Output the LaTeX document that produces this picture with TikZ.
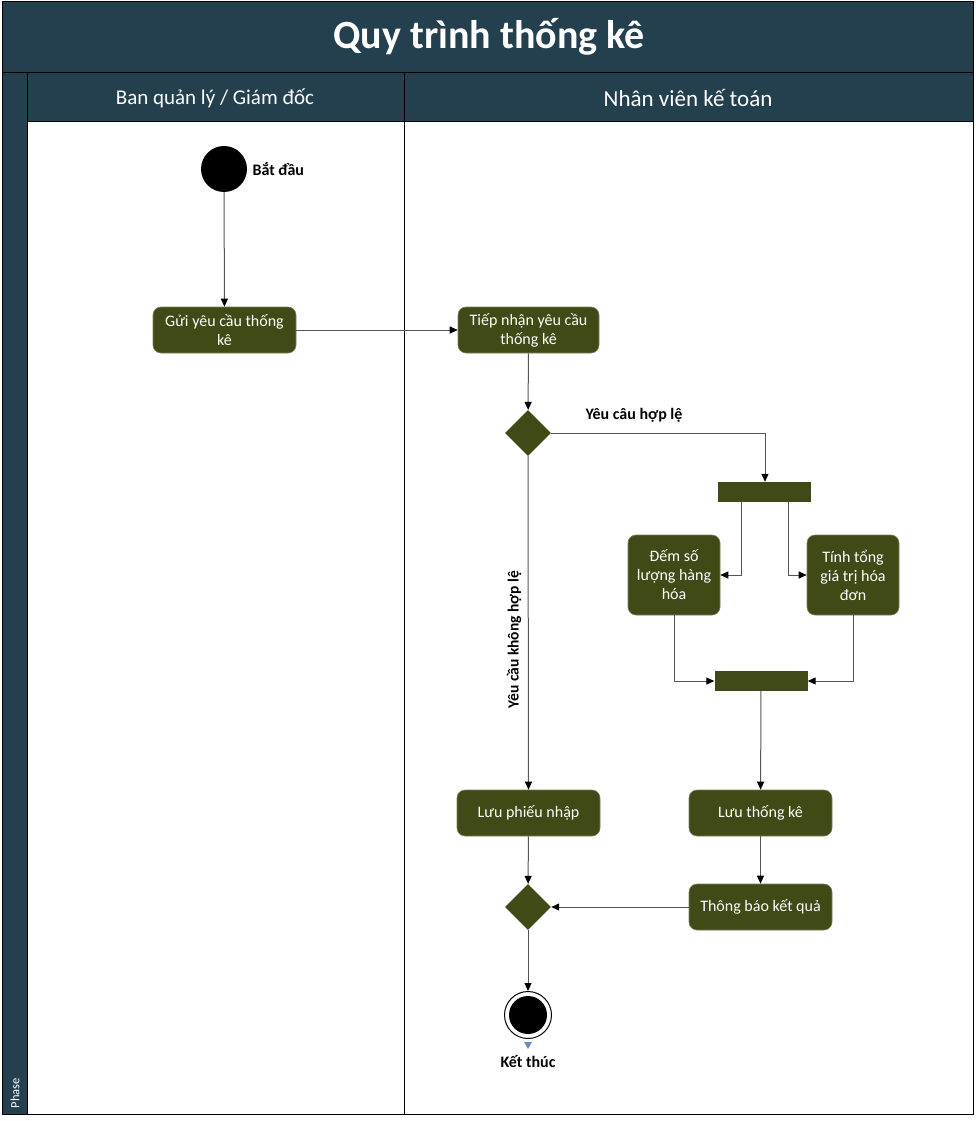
\documentclass[tikz,border=0pt]{standalone}
\usepackage{fontspec}
\setmainfont{Carlito}
\usetikzlibrary{shapes.geometric,arrows.meta}
\definecolor{hdr}{RGB}{36,64,79}
\definecolor{olive}{RGB}{63,74,23}
\definecolor{conn}{RGB}{85,85,85}
\definecolor{tipblue}{RGB}{100,140,200}
\tikzset{
  act/.style={draw=olive!70!white, fill=olive, rounded corners=8pt, text=white, align=center, font=\fontsize{16}{19}\selectfont, inner sep=0pt, line width=0.6pt},
  dec/.style={diamond, fill=olive, minimum width=46pt, minimum height=46pt, inner sep=0pt},
  bar/.style={fill=olive, minimum width=93pt, minimum height=20pt, inner sep=0pt},
  flow/.style={draw=conn, line width=1pt, -{Triangle[length=8pt,width=7pt,color=black]}},
  lbl/.style={font=\bfseries\fontsize{16}{18}\selectfont, text=black},
}
\begin{document}
\begin{tikzpicture}[x=1pt,y=-1pt]
\useasboundingbox (0,0) rectangle (975,1121);
% frame
\fill[white] (0,0) rectangle (975,1121);
\fill[hdr] (2,2) rectangle (973,73);
\fill[hdr] (2,73) rectangle (27,1114);
\fill[hdr] (27,73) rectangle (973,122);
\draw[black, line width=1pt] (2,2) rectangle (973,1114);
\draw[black, line width=1pt] (2,73) -- (973,73);
\draw[black, line width=1pt] (27,73) -- (27,1114);
\draw[black, line width=1pt] (27,122) -- (973,122);
\draw[black, line width=1pt] (404,73) -- (404,1114);
\node[text=white, font=\bfseries\fontsize{40}{44}\selectfont] (title) at (489,37) {Quy trình thống kê};
\node[text=white, font=\fontsize{21}{25}\selectfont] (lane1) at (215,98) {Ban quản lý / Giám đốc};
\node[text=white, font=\fontsize{23}{27}\selectfont] (lane2) at (688,98) {Nhân viên kế toán};
\node[text=white, rotate=90, font=\fontsize{12.5}{14}\selectfont] (phase) at (15,1093) {Phase};
% nodes
\node[circle, fill=black, minimum size=46pt, inner sep=0pt] (start) at (224,169) {};
\node[lbl, anchor=west] (startl) at (249,169) {Bắt đầu};
\node[act, minimum width=143pt, minimum height=46pt] (gui) at (224.5,330) {Gửi yêu cầu thống\\kê};
\node[act, minimum width=141pt, minimum height=46pt] (tiep) at (528.5,330) {Tiếp nhận yêu cầu\\thống kê};
\node[dec] (d1) at (528,433) {};
\node[lbl] (hople) at (634,415) {Yêu câu hợp lệ};
\node[bar] (fork) at (764.5,492) {};
\node[act, minimum width=92pt, minimum height=80pt] (dem) at (674,575) {Đếm số\\lượng hàng\\hóa};
\node[act, minimum width=92pt, minimum height=80pt] (tinh) at (853,575) {Tính tổng\\giá trị hóa\\đơn};
\node[bar] (join) at (761,681) {};
\node[act, minimum width=143pt, minimum height=46pt] (luutk) at (760.5,813) {Lưu thống kê};
\node[act, minimum width=143pt, minimum height=46pt] (thongbao) at (760.5,907) {Thông báo kết quả};
\node[act, minimum width=143pt, minimum height=46pt] (luupn) at (528.5,813) {Lưu phiếu nhập};
\node[dec] (d2) at (528,907) {};
\node[circle, draw=black, line width=1pt, fill=white, minimum size=47pt, inner sep=0pt] (endo) at (528,1015) {};
\node[circle, fill=black, minimum size=38pt, inner sep=0pt] (endi) at (528,1015) {};
\node[lbl] (endl) at (528,1062) {Kết thúc};
% connectors
\draw[flow] (start) -- (gui);
\draw[flow] (gui) -- (tiep);
\draw[flow] (tiep) -- (d1);
\draw[flow] (d1.east) -| (fork.north -| 765,0);
\draw[flow] (fork.south -| 741,0) |- (dem.east);
\draw[flow] (fork.south -| 788,0) |- (tinh.west);
\draw[flow] (dem.south) |- (join.west);
\draw[flow] (tinh.south) |- (join.east);
\draw[flow] (join) -- (luutk);
\draw[flow] (luutk) -- (thongbao);
\draw[flow] (thongbao) -- (d2.east);
\draw[flow] (d1.south) -- node[lbl, rotate=90, font=\bfseries\fontsize{15.5}{17}\selectfont, yshift=14pt, pos=0.55] {Yêu cầu không hợp lệ} (luupn.north);
\draw[flow] (luupn) -- (d2);
\draw[flow] (d2.south) -- (endo.north);
\fill[tipblue] (endo.south) ++(-4,3) -- ++(8,0) -- ++(-4,7) -- cycle;
\end{tikzpicture}
\end{document}
